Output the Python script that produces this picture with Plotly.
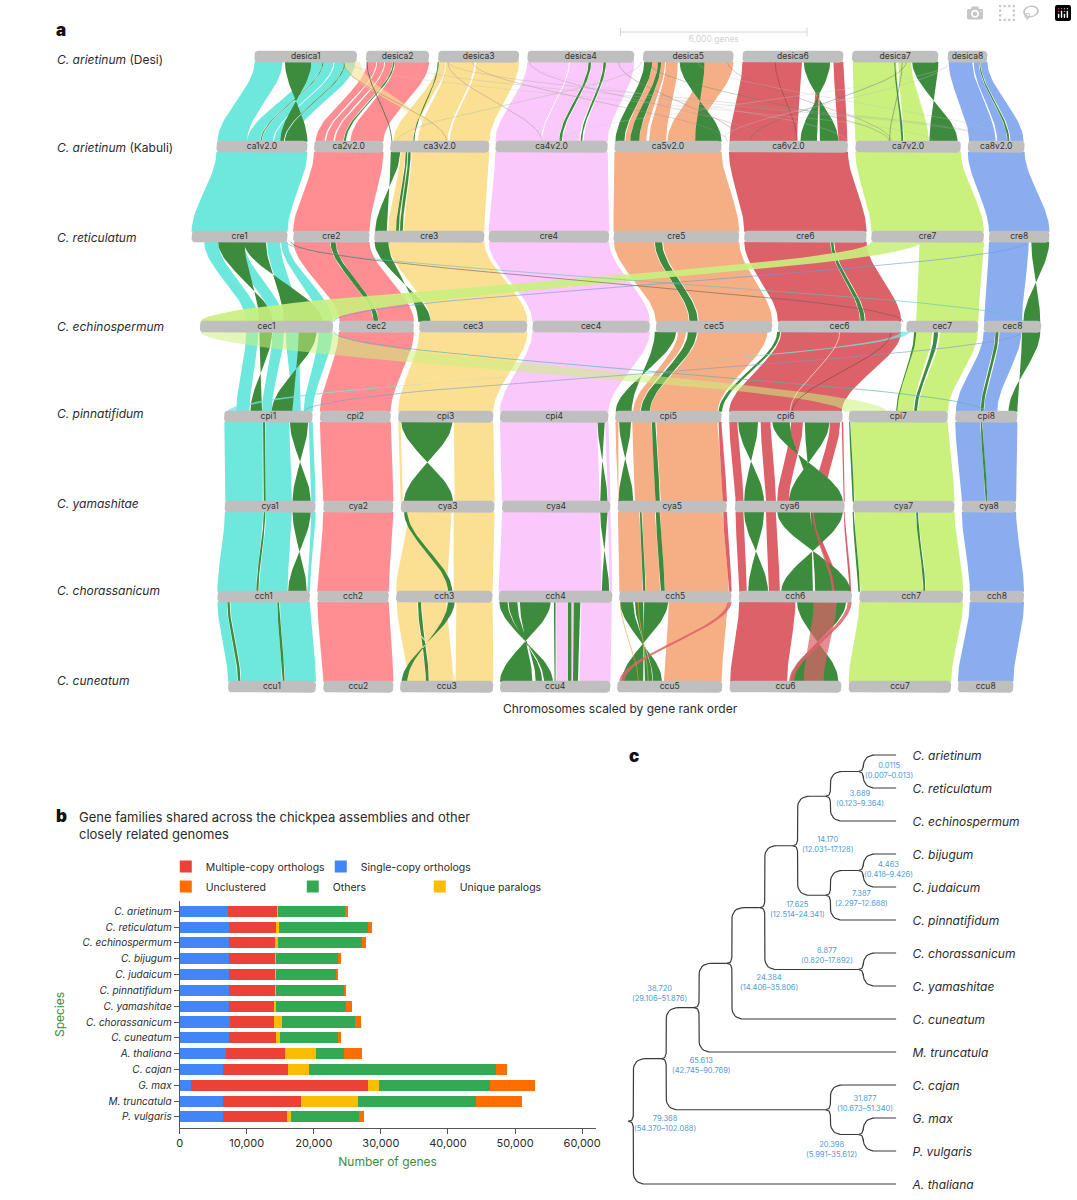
import math
import plotly.graph_objects as go

W, H = 1077, 1200
FONT = "Inter, 'Noto Sans', sans-serif"
TEXT = "#2b2b2b"

# ---------- panel a: chromosome extents (rank units; 188 units = 6,000 genes) ----------
SCALE_GENES = 6000
UNITS_PER_GENE = 188 / 6000
SCALE_START = 622
ROWS = ["desica", "ca", "cre", "cec", "cpi", "cya", "cch", "ccu"]
SPECIES_A = ["<i>C. arietinum</i> (Desi)", "<i>C. arietinum</i> (Kabuli)", "<i>C. reticulatum</i>",
             "<i>C. echinospermum</i>", "<i>C. pinnatifidum</i>", "<i>C. yamashitae</i>",
             "<i>C. chorassanicum</i>", "<i>C. cuneatum</i>"]
SPECIES_A_PX = [59, 148, 237, 326, 414, 503, 591, 680]
desica_ext = [(253.3, 356.7), (365.7, 429.3), (438.3, 520), (528.3, 636), (644.7, 736), (745, 846.7), (855.3, 942.3), (951.7, 991.7)]
ca_ext = [(215, 306.7), (313.3, 383.3), (390, 490), (496, 609.3), (616, 724), (731.3, 851.3), (858.7, 965), (972, 1029.3)]
cre_ext = [(190, 286.7), (292.3, 369.3), (374, 485), (489.3, 610.7), (615, 741.7), (746.7, 870), (874.7, 988.3), (993.3, 1054.3)]
cec_ext = [(198.3, 332.7), (338.3, 414), (419.3, 528.3), (533.3, 651.7), (657.7, 775), (780.7, 905), (910, 982.7), (988, 1046)]
cpi_ext = [(222.7, 312), (319.3, 390.7), (398, 494), (500.7, 610), (616.7, 724), (731.3, 846), (852, 952), (959.3, 1022)]
cya_ext = [(223.3, 315), (322.7, 393.3), (400.7, 495.3), (502.7, 612), (619.3, 729.3), (737.3, 848), (856, 958.7), (966, 1020.7)]
cch_ext = [(216, 309.3), (316.7, 388.7), (396, 493.3), (499.3, 614), (620.7, 734), (741.3, 855.3), (862.7, 967.3), (974, 1028.7)]
ccu_ext = [(226.7, 315.3), (322.7, 393.3), (400, 494), (500.7, 612), (618.7, 724.7), (732, 844.7), (852, 955.3), (962, 1018)]
EXTENTS = [desica_ext, ca_ext, cre_ext, cec_ext, cpi_ext, cya_ext, cch_ext, ccu_ext]
CHR_COLORS = {1: "#6ee7dd", 2: "#ff8e93", 3: "#fbe094", 4: "#fac8fa", 5: "#f6ae84", 6: "#dc6168", 7: "#caf07e", 8: "#8aadf0", "g": "#3d8b3d"}

# Syntenic blocks: (colour key, top start, top end, bottom start, bottom end). start>end at the bottom = inverted.
link0 = [
    (1, 253.5, 281.7, 216, 245.7), (1, 311, 322, 246, 259), (1, 323, 333, 261, 272), (1, 334, 344, 273, 283), (1, 345, 355, 284, 293),
    ("g", 284, 310.7, 306.7, 279.3), ("g", 322, 322.8, 259.5, 260.5), ("g", 344, 345, 283, 284),
    (2, 366.7, 376, 315, 324), (2, 377, 384, 325.5, 333), (2, 385, 392.5, 334.5, 343), ("g", 393, 394.5, 343.5, 345.5), (2, 395, 429.3, 350, 383.3),
    (3, 438.3, 446, 393.3, 413), (3, 446.7, 475, 418, 448), (3, 476.7, 520, 450, 490), ("g", 438, 439, 413.5, 414.5),
    (4, 528.3, 570, 496, 542), (4, 571, 589.5, 543, 560), ("g", 590, 592.5, 560.5, 563), (4, 593, 604.5, 564, 580.5), ("g", 605, 607.5, 582, 583.5), (4, 608, 636, 585, 609.3),
    ("g", 646, 654, 617, 626), (5, 654, 660, 627, 632), ("g", 660, 663, 632, 641), (5, 663, 667, 641, 648), (5, 668, 680, 651, 668),
    ("g", 681.7, 706.7, 724, 697.3), (5, 706.7, 736, 669.3, 697.3),
    (6, 745, 805, 732, 800), ("g", 806.7, 822, 841.7, 823), ("g", 822, 833.3, 820, 803.3), (6, 820, 824, 815, 820), (6, 836.7, 846.7, 841.7, 850.7),
    (7, 856, 900, 858.7, 905), (7, 902, 915, 908, 932.7), ("g", 898, 899, 905, 907), ("g", 916, 942.3, 961.7, 933.3),
    (8, 952.7, 976.7, 973.3, 1000), (8, 978, 983, 1001.7, 1011.7), ("g", 983.5, 984.5, 1012, 1014), (8, 985, 991.7, 1015, 1028.3),
]
link1 = [
    (1, 215, 306.7, 190, 286.7), (2, 313.3, 383.3, 292.3, 369.3),
    ("g", 390.7, 400, 386.7, 375), (3, 400.5, 405, 388, 396), ("g", 405.7, 407.3, 396, 398.7), (3, 407.5, 408, 399, 400), ("g", 408.3, 410.7, 400, 402.7), (3, 411.7, 490, 404, 485),
    (4, 496, 609.3, 489.3, 610.7), (5, 616, 724, 615, 741.7), (6, 731.3, 851.3, 746.7, 870), (7, 858.7, 965, 874.7, 988.3), (8, 972, 1029.3, 993.3, 1054.3),
]
link2 = [
    (1, 202.7, 216.7, 245, 258.3), ("g", 216.7, 243.3, 271.7, 258), (1, 230, 242.7, 270, 283), ("g", 242.7, 265, 321.7, 283), (1, 266, 279.3, 285, 298), (1, 280, 286.7, 318, 332),
    (2, 292.8, 329.5, 339, 373), ("g", 330, 335, 373.5, 378), (2, 335.5, 369.3, 378.5, 414),
    ("g", 374.3, 388.3, 430.7, 418.3), (3, 388, 485, 431, 528.3), (4, 489.3, 610.7, 533.3, 651.7),
    (5, 615.5, 656, 657.7, 691), ("g", 656.7, 664, 691.7, 700), (5, 665, 741.7, 701, 775),
    (6, 746.7, 833.5, 780.7, 863.5), ("g", 834, 836.7, 864, 868.3), (6, 837.5, 870, 869, 905),
    (7, 923.3, 988.3, 920, 982.7), (8, 993.3, 1033.3, 988.3, 1026.7), ("g", 1036, 1054, 1045, 1028),
]
link3 = [
    (1, 245, 257, 235, 248.3), ("g", 258.3, 271, 261, 249.3), (1, 271.5, 283, 261, 270.7), (1, 285, 298, 291.7, 300), ("g", 298, 316, 291.7, 270.7), (1, 318, 332, 303, 312),
    (2, 338.3, 414, 319.3, 390.7), (3, 419.3, 528.3, 398, 494), (4, 533.3, 651.7, 500.7, 610),
    ("g", 656.7, 678, 633.3, 617.3), (5, 680, 688, 635, 642), ("g", 690, 699, 642.7, 651.7), (5, 700, 770, 652, 720), ("g", 780, 783, 721, 724.5),
    (6, 784, 905, 731.5, 845), ("g", 918, 920, 900, 901),
    (7, 918, 936, 900, 917), ("g", 938, 942, 918, 921), (7, 944, 982, 922, 952),
    (8, 988, 999.5, 960, 984.5), ("g", 1000, 1003, 985, 988), (8, 1004, 1026, 988.5, 1001.7), ("g", 1026.7, 1045, 1022, 1013),
]
link4 = [
    (1, 223, 261.7, 224, 261.7), ("g", 262, 264, 262.7, 264.7), (1, 264.5, 288.3, 265, 291), ("g", 289, 307.3, 310, 291.7), (1, 308, 312, 310.7, 315),
    (2, 319.3, 390.7, 322.7, 393.3), (3, 398.3, 400.7, 400.7, 402.7), ("g", 401.3, 452.7, 453.3, 404), (3, 454.3, 494, 455, 495.3),
    (4, 500.7, 598.5, 502.7, 601), ("g", 599, 606.3, 609, 601.7), (4, 606.8, 610, 609.5, 612),
    (5, 617, 620, 619.5, 620), ("g", 620.7, 632.7, 635, 620), (5, 634, 653.3, 636.7, 657.3), ("g", 653.7, 657.3, 657.3, 661.7), (5, 658.3, 720, 662.7, 725), (6, 721, 724, 725, 729.3),
    (6, 731.7, 740, 738, 746), ("g", 740.7, 760.7, 766.7, 746.7), (6, 763.3, 773.3, 768.7, 778.7), (6, 794, 806, 780, 791.7), (6, 833.3, 843.3, 816, 827.3), ("g", 775, 792.7, 846, 814), ("g", 807.7, 832.7, 814, 791.7), (6, 845, 846.5, 847, 848),
    ("g", 852.5, 853.5, 856, 857.5), (7, 854, 952, 858, 958.7),
    (8, 959.3, 984.5, 966, 989.5), ("g", 985, 986.7, 990, 991.7), (8, 987, 1022, 992, 1020.7),
]
link5 = [
    (1, 223.5, 262, 216, 255), ("g", 262.7, 264.3, 255.3, 257.3), (1, 265, 291, 258, 286.7), ("g", 291.7, 310, 306, 287.3), (1, 310.5, 315, 306.5, 309.3),
    (2, 322.7, 393.3, 316.7, 388.7), (3, 408, 452, 396, 447.5), ("g", 404, 407.3, 448.3, 452.7), (3, 454, 495.3, 454, 493.3),
    (4, 502.7, 601, 499.3, 603), ("g", 601.7, 609, 610.7, 603.3), (4, 609.5, 612, 611, 614),
    (5, 619.5, 641, 621, 644.5), ("g", 641.7, 643.3, 645, 647.3), (5, 644, 657, 648, 662), ("g", 657.7, 661.7, 662.7, 666.7), (5, 662, 725, 667, 731), (6, 725.5, 729.3, 731.5, 734),
    (6, 738, 746, 741.7, 749.3), ("g", 746.7, 766.7, 770.7, 750.7), (6, 768.7, 778.7, 771.7, 782.7), ("g", 780, 813.3, 854, 818.3), ("g", 814, 846, 816, 784), (6, 815, 818, 838, 842), (6, 847, 848, 853, 854.5),
    ("g", 856, 857.3, 861.7, 863.3), (7, 857.8, 919.5, 864, 927), ("g", 920, 922, 927.3, 929.3), (7, 922.5, 958.7, 930, 967.3),
    (8, 966, 1020.7, 974, 1028.7),
]
link6 = [
    (1, 216, 225.5, 226.7, 236), ("g", 226, 228.3, 236.7, 239.3), (1, 229, 275.8, 240, 281), ("g", 276.3, 278.3, 281.7, 283.7), (1, 279, 309.3, 284.3, 315.3),
    (2, 316.7, 388.7, 322.7, 393.3),
    (3, 396.7, 417.3, 407.7, 425.7), ("g", 418, 421.3, 426, 429), (3, 422, 446.7, 429.3, 453.3), ("g", 448.3, 455, 407.3, 401.7), (3, 456.7, 493.3, 456, 494),
    ("g", 500, 508.3, 554, 545), ("g", 509.3, 518.3, 543.3, 536.7), ("g", 520.7, 551.7, 533.3, 500.7),
    ("g", 555, 556.7, 555.7, 556.7), (4, 557.3, 568.3, 557.7, 568.3), ("g", 569, 572.7, 569, 572.7), (4, 573, 574.7, 573, 574), ("g", 575, 581.7, 574.3, 579.3), (4, 582.7, 613.3, 580.7, 612),
    ("g", 646, 670, 645, 623.3), ("g", 621.7, 635, 664, 655), ("g", 636.7, 645, 654.3, 646.7), (5, 670.7, 730, 666, 724),
    (6, 741.7, 798.3, 732.7, 790), ("g", 800, 849.3, 841.7, 793.3),
    (7, 862.7, 967.3, 852, 955.3), (8, 974, 1028.7, 962, 1018),
]
LINKS = [link0, link1, link2, link3, link4, link5, link6]
# Long translocations, drawn with transparency: (colour key, link, top start, top end, bottom start, bottom end, alpha)
OVERLAYS = [
    (7, 2, 875, 925, 199, 332, 0.9), (7, 3, 199, 332, 847, 890, 0.55), (1, 3, 904, 914, 226, 236, 0.75),
    (6, 5, 815, 817, 835, 838, 0.8), (6, 6, 816.7, 840, 806.7, 826.7, 0.72), (6, 6, 851, 855, 792, 797, 0.85),
    (6, 6, 730, 734, 621, 626, 0.85), (3, 0, 343, 360, 438, 443, 0.6), (3, 6, 398, 399.5, 454, 455.5, 0.8),
]
# Single-gene links: (link, top x, bottom x, colour, width)
THIN = [
    (0, 343, 447, "#8a8a60", 0.6), (0, 366.7, 391.7, "#3d6b3d", 1), (0, 448, 543, "#9c8f8f", 0.6), (0, 473, 730, "#9c8f8f", 0.5),
    (0, 620, 743, "#a08080", 0.6), (0, 643, 397, "#b0c0a0", 0.6), (0, 778, 800, "#a04040", 0.8), (0, 730, 895, "#907070", 0.5),
    (0, 910, 752, "#707070", 0.6), (0, 650, 893, "#708070", 0.5), (0, 953, 723, "#c0c0c0", 0.5), (0, 448, 1003, "#a0a0a0", 0.4),
    (0, 395, 1000, "#b0b0b0", 0.4), (0, 347, 937, "#c0c0c0", 0.4), (0, 530, 767, "#b090b0", 0.5), (0, 906, 893, "#5a7a5a", 0.7),
    (0, 530, 850, "#c8c8c8", 0.4), (0, 700, 1015, "#c0c0c0", 0.4), (0, 955, 560, "#d0d0d0", 0.4),
    (2, 285, 1028, "#5fc4be", 0.8), (2, 1031.7, 333, "#6f9ad8", 0.8), (2, 290, 907, "#7a5a5a", 0.8),
    (3, 1027, 303, "#7f9cc8", 0.8), (3, 333, 990, "#56b8b0", 0.9), (3, 843, 793, "#fff0e0", 0.9), (3, 895, 795, "#6b4a3a", 0.8),
    (5, 815, 838, "#b04040", 0.6), (6, 640, 650, "#d9a23c", 1), (6, 622, 640, "#d9a23c", 0.8),
]
ROW_PAD_PX, ROW_STEP_PX, ROW_ZERO_PX = 6.0, 90.0, 56.7

# ---------- panel b ----------
SPECIES_B = ["C. arietinum", "C. reticulatum", "C. echinospermum", "C. bijugum", "C. judaicum", "C. pinnatifidum", "C. yamashitae",
             "C. chorassanicum", "C. cuneatum", "A. thaliana", "C. cajan", "G. max", "M. truncatula", "P. vulgaris"]
single_copy = [7260, 7310, 7360, 7310, 7310, 7310, 7420, 7470, 7420, 6880, 6390, 1620, 6390, 6440]
multiple_copy = [7310, 7090, 6820, 6930, 6930, 6930, 6610, 6610, 6880, 8770, 9800, 26430, 11700, 9580]
unique_paralogs = [60, 380, 540, 110, 110, 110, 380, 1240, 650, 4600, 3090, 1730, 8500, 600]
others = [10060, 13270, 12450, 9310, 8990, 10180, 10450, 10880, 8660, 4280, 27940, 16460, 17600, 10070]
unclustered = [440, 650, 540, 380, 270, 220, 810, 870, 380, 2710, 1570, 6660, 6770, 810]
SERIES_B = [("Single-copy orthologs", single_copy, "#4285f4", "legend"), ("Multiple-copy orthologs", multiple_copy, "#ea4335", "legend"),
            ("Unique paralogs", unique_paralogs, "#fbbc04", "legend2"), ("Others", others, "#34a853", "legend2"), ("Unclustered", unclustered, "#ff6d01", "legend2")]

# ---------- panel c: (depth, children); strings are tips ----------
TREE = (0, [(1, [(2, [(3, [(4, [(5, [(6, [(7, ["C. arietinum", "C. reticulatum"]), "C. echinospermum"]),
                                     (6, [(7, ["C. bijugum", "C. judaicum"]), "C. pinnatifidum"])]),
                                (7, ["C. chorassanicum", "C. yamashitae"])]), "C. cuneatum"]), "M. truncatula"]),
                 (6, ["C. cajan", (7, ["G. max", "P. vulgaris"])])]), "A. thaliana"])
TIP_DEPTH = 8
NODE_AGES = ["0.0115", "3.689", "14.170", "4.463", "7.387", "17.625", "8.877", "24.384", "38.720", "65.613", "31.877", "20.398", "79.368"]
NODE_RANGES = ["0.007–0.013", "0.123–9.364", "12.031–17.128", "0.418–9.426", "2.297–12.688", "12.514–24.341", "0.820–17.892",
               "14.406–35.806", "29.106–51.876", "42.745–90.769", "10.673–51.340", "5.991–35.612", "54.370–102.088"]
NODE_LABEL_X = [892.7, 863, 830.7, 892, 865, 800, 830.3, 771.7, 661.7, 704, 868, 834.7, 667.3]
NODE_LABEL_Y = [770, 798.7, 844.5, 869.5, 898.8, 909.8, 955.5, 982.3, 993.5, 1065.3, 1103.2, 1149.3, 1123.5]

fig = go.Figure()


def row_y(px):
    return (px - ROW_ZERO_PX) / ROW_STEP_PX


def ribbon(link, t0, t1, b0, b1):
    y0 = link + (ROW_PAD_PX - 1) / ROW_STEP_PX
    y1 = link + 1 - (ROW_PAD_PX - 1) / ROW_STEP_PX
    ts = [i / 30 for i in range(31)]
    s = [3 * t * t - 2 * t ** 3 for t in ts]
    xs = [t0 + (b0 - t0) * v for v in s] + [t1 + (b1 - t1) * v for v in reversed(s)]
    ys = [y0 + (y1 - y0) * t for t in ts] + [y0 + (y1 - y0) * t for t in reversed(ts)]
    return xs + [xs[0]], ys + [ys[0]]


def poly_trace(xs, ys, color, **kw):
    return go.Scatter(x=xs, y=ys, mode="lines", fill="toself", fillcolor=color, line=dict(width=0, color=color),
                      hoverinfo="skip", showlegend=False, xaxis="x", yaxis="y", **kw)


for key in [1, 2, 3, 4, 5, 6, 7, 8, "g"]:
    xs, ys = [], []
    for li, blocks in enumerate(LINKS):
        for b in blocks:
            if b[0] == key:
                rx, ry = ribbon(li, *b[1:])
                xs += rx + [None]
                ys += ry + [None]
    fig.add_trace(poly_trace(xs, ys, CHR_COLORS[key]))

for key, li, t0, t1, b0, b1, alpha in OVERLAYS:
    rx, ry = ribbon(li, t0, t1, b0, b1)
    c = CHR_COLORS[key]
    rgba = "rgba(%d,%d,%d,%.2f)" % (int(c[1:3], 16), int(c[3:5], 16), int(c[5:7], 16), alpha)
    fig.add_trace(poly_trace(rx, ry, rgba))

for li, xt, xb, col, wd in THIN:
    rx, ry = ribbon(li, xt, xt, xb, xb)
    fig.add_trace(go.Scatter(x=rx[:31], y=ry[:31], mode="lines", line=dict(color=col, width=wd), opacity=0.75,
                             hoverinfo="skip", showlegend=False, xaxis="x", yaxis="y"))

# chromosome bars
bx, by, lx, ly, lt = [], [], [], [], []
R = 4.0
for r, (name, ext) in enumerate(zip(ROWS, EXTENTS)):
    for c, (a, b) in enumerate(ext):
        hh = ROW_PAD_PX / ROW_STEP_PX
        ry_ = R / ROW_STEP_PX
        corners = [(b - R, r - hh + ry_, -90), (b - R, r + hh - ry_, 0), (a + R, r + hh - ry_, 90), (a + R, r - hh + ry_, 180)]
        for cx, cy, st in corners:
            for k in range(7):
                ang = math.radians(st + 15 * k)
                bx.append(cx + R * math.cos(ang))
                by.append(cy + ry_ * math.sin(ang))
        bx += [bx[-28], None]
        by += [by[-28], None]
        lx.append((a + b) / 2)
        ly.append(r)
        lt.append(f"{name}{c + 1}" + ("v2.0" if name == "ca" else ""))
fig.add_trace(poly_trace(bx, by, "#bfbfbf"))
fig.add_trace(go.Scatter(x=lx, y=ly, text=lt, mode="text", textposition="middle center",
                         textfont=dict(family=FONT, size=8.5, color="#333333"), hoverinfo="skip", showlegend=False, xaxis="x", yaxis="y"))

# scale bar
sb_end = SCALE_START + SCALE_GENES * UNITS_PER_GENE
sb_y, sb_t = row_y(32), 4 / ROW_STEP_PX
fig.add_trace(go.Scatter(x=[SCALE_START, SCALE_START, None, SCALE_START, sb_end, None, sb_end, sb_end],
                         y=[sb_y - sb_t, sb_y + sb_t, None, sb_y, sb_y, None, sb_y - sb_t, sb_y + sb_t], mode="lines",
                         line=dict(color="#d6d6d6", width=1), hoverinfo="skip", showlegend=False, xaxis="x", yaxis="y"))
fig.add_trace(go.Scatter(x=[(SCALE_START + sb_end) / 2], y=[row_y(39.5)], text=[f"{SCALE_GENES:,} genes"], mode="text",
                         textfont=dict(family=FONT, size=8.5, color="#d3d3d3"), hoverinfo="skip", showlegend=False, xaxis="x", yaxis="y"))

# ---------- panel b traces ----------
for name, vals, col, leg in SERIES_B:
    fig.add_trace(go.Bar(x=vals, y=SPECIES_B, name=name, orientation="h", marker=dict(color=col, line=dict(width=0)), width=0.7,
                         xaxis="x2", yaxis="y2", legend=leg))

# ---------- panel c traces ----------
leaves = []


def collect(n):
    if isinstance(n, str):
        leaves.append(n)
    else:
        for ch in n[1]:
            collect(ch)


collect(TREE)


def node_pos(n):
    if isinstance(n, str):
        return TIP_DEPTH, leaves.index(n)
    ys_ = [node_pos(c)[1] for c in n[1]]
    return n[0], sum(ys_) / len(ys_)


def quad(p0, p1, p2, steps=8):
    out = []
    for i in range(steps + 1):
        t = i / steps
        out.append(((1 - t) ** 2 * p0[0] + 2 * t * (1 - t) * p1[0] + t * t * p2[0],
                    (1 - t) ** 2 * p0[1] + 2 * t * (1 - t) * p1[1] + t * t * p2[1]))
    return out


tx, ty = [], []


def draw(n):
    if isinstance(n, str):
        return
    d, y = node_pos(n)
    for ch in n[1]:
        dc, yc = node_pos(ch)
        s = 1 if yc > y else -1
        stem_end = dc if isinstance(ch, str) else dc - 0.15
        pts = quad((d - 0.15, y), (d, y), (d, y + s * 0.2)) + quad((d, yc - s * 0.38), (d, yc), (d + 0.38, yc)) + [(stem_end, yc)]
        tx.extend([p[0] for p in pts] + [None])
        ty.extend([p[1] for p in pts] + [None])
        draw(ch)


draw(TREE)
fig.add_trace(go.Scatter(x=tx, y=ty, mode="lines", line=dict(color="#3a3a3a", width=1.2), hoverinfo="skip", showlegend=False, xaxis="x3", yaxis="y3"))
fig.add_trace(go.Scatter(x=[TIP_DEPTH + 0.5] * len(leaves), y=[i + 0.06 for i in range(len(leaves))], text=[f"<i>{t}</i>" for t in leaves],
                         mode="text", textposition="middle right", textfont=dict(family=FONT, size=12, color=TEXT),
                         hoverinfo="skip", showlegend=False, xaxis="x3", yaxis="y3"))


# ---------- annotations ----------
def note(text, x, y, size=12, color=TEXT, anchor="left", **font_kw):
    return dict(text=text, x=x / W, y=1 - y / H, xref="paper", yref="paper", showarrow=False, xanchor=anchor, yanchor="middle",
                align=anchor, font=dict(family=FONT, size=size, color=color, **font_kw))


ann = []
for t, y in zip(SPECIES_A, SPECIES_A_PX):
    ann.append(note(t, 52, y, 12))
ann.append(note("Chromosomes scaled by gene rank order", 622, 708, 12, anchor="center"))
ann.append(note("a", 51, 30, 17, "#111111", weight=900))
ann.append(note("b", 51, 816, 17, "#111111", weight=900))
ann.append(note("c", 629, 756, 17, "#111111", weight=900))
ann.append(note("Gene families shared across the chickpea assemblies and other<br>closely related genomes", 75, 825, 13))
for age, rng, x, y in zip(NODE_AGES, NODE_RANGES, NODE_LABEL_X, NODE_LABEL_Y):
    ann.append(note(f"{age}<br>({rng})", x, y, 7.5, "#4f9bd4", anchor="center"))

hidden = dict(visible=False, showgrid=False, zeroline=False, fixedrange=True)
fig.update_layout(
    width=W, height=H, margin=dict(l=0, r=0, t=0, b=0), paper_bgcolor="white", plot_bgcolor="rgba(0,0,0,0)",
    font=dict(family=FONT, color=TEXT), barmode="stack", annotations=ann,
    xaxis=dict(hidden, domain=[0, 1], range=[0, W]),
    yaxis=dict(hidden, domain=[0, 1], range=[row_y(H), row_y(0)]),
    xaxis2=dict(domain=[178 / W, 597 / W], range=[0, 62000], anchor="y2", showgrid=False, zeroline=False, showline=True, linecolor="#555555",
                ticks="outside", ticklen=5, tickcolor="#555555", tickvals=[0, 10000, 20000, 30000, 40000, 50000, 60000], tickformat=",",
                tickfont=dict(size=11, color=TEXT), title=dict(text="Number of genes", font=dict(size=12, color="#3f8a3f"), standoff=8), fixedrange=True),
    yaxis2=dict(domain=[1 - 1128 / H, 1 - 901 / H], range=[13.7, -0.65], anchor="x2", showgrid=False, zeroline=False, showline=True, linecolor="#555555",
                ticks="outside", ticklen=5, tickcolor="#555555", tickmode="array", tickvals=SPECIES_B, ticktext=[f"<i>{s}</i>" for s in SPECIES_B],
                tickfont=dict(size=10, color=TEXT), title=dict(text="Species", font=dict(size=12, color="#3f8a3f")), fixedrange=True),
    xaxis3=dict(hidden, domain=[0, 1], range=[-635 / 33.1, (W - 635) / 33.1], anchor="y3"),
    yaxis3=dict(hidden, domain=[0, 1], range=[(H - 755) / 33.0, -755 / 33.0], anchor="x3"),
    legend=dict(orientation="h", x=164 / W, y=1 - 852 / H, xanchor="left", yanchor="top", bgcolor="rgba(0,0,0,0)",
                font=dict(size=10.5, color=TEXT), entrywidth=110, entrywidthmode="pixels", itemclick=False, itemdoubleclick=False),
    legend2=dict(orientation="h", x=164 / W, y=1 - 872 / H, xanchor="left", yanchor="top", bgcolor="rgba(0,0,0,0)",
                 font=dict(size=10.5, color=TEXT), entrywidth=82, entrywidthmode="pixels", itemclick=False, itemdoubleclick=False),
)
fig.write_html("out.html", post_script="document.body.style.margin='0';")
